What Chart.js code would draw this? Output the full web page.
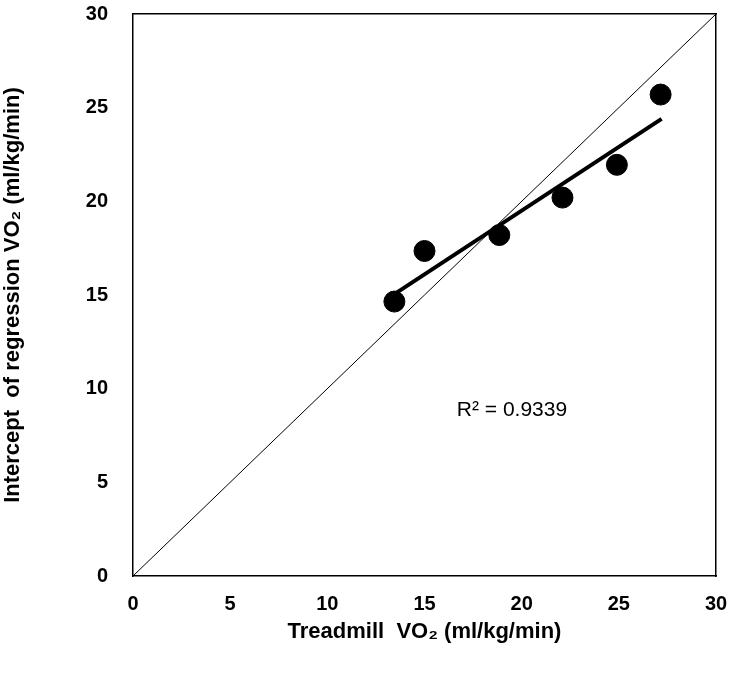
<!DOCTYPE html>
<html>
<head>
<meta charset="utf-8">
<script src="https://cdn.jsdelivr.net/npm/chart.js@4.4.1/dist/chart.umd.min.js"></script>
<style>
  html, body { margin: 0; padding: 0; background: #fff; }
  #wrap { width: 734px; height: 678px; }
</style>
</head>
<body>
<div id="wrap"><canvas id="chart" width="734" height="678"></canvas></div>
<script>
// values
const treadmillVO2 = [13.45, 15.0, 18.85, 22.1, 24.9, 27.15];
const interceptVO2 = [14.65, 17.35, 18.2, 20.2, 21.95, 25.7];
const trendX = [13.45, 27.2];
const trendY = [15.05, 24.4];
const identityX = [0, 30];
const identityY = [0, 30];
const rSquaredLabel = 'R\u00b2 = 0.9339';
const rSquaredAt = { x: 19.5, y: 8.85 };

const FONT = '"Liberation Sans", Arial, sans-serif';

const toPoints = (xs, ys) => xs.map((x, i) => ({ x, y: ys[i] }));

// writes the R² note at a data position
const rSquaredPlugin = {
  id: 'rSquared',
  afterDatasetsDraw(chart) {
    const { ctx, scales } = chart;
    ctx.save();
    ctx.font = '21px ' + FONT;
    ctx.fillStyle = '#000';
    ctx.textAlign = 'center';
    ctx.textBaseline = 'middle';
    ctx.fillText(rSquaredLabel, scales.x.getPixelForValue(rSquaredAt.x), scales.y.getPixelForValue(rSquaredAt.y));
    ctx.restore();
  },
};

const noEdgePadding = (scale) => {
  scale.paddingTop = 0;
  scale.paddingBottom = 0;
  scale.paddingLeft = 0;
  scale.paddingRight = 0;
};

const hiddenFrameAxis = (position, fit) => ({
  type: 'linear',
  position,
  min: 0,
  max: 30,
  ticks: { display: false },
  grid: { display: false, drawTicks: false },
  border: { display: true, color: '#000', width: 1.5 },
  afterFit(scale) {
    fit(scale);
    noEdgePadding(scale);
  },
});

new Chart(document.getElementById('chart'), {
  type: 'scatter',
  data: {
    datasets: [
      {
        label: 'points',
        data: toPoints(treadmillVO2, interceptVO2),
        backgroundColor: '#000',
        borderColor: '#000',
        pointRadius: 10.5,
        pointHoverRadius: 10.5,
      },
      {
        label: 'trend',
        data: toPoints(trendX, trendY),
        showLine: true,
        borderColor: '#000',
        borderWidth: 4,
        pointRadius: 0,
      },
      {
        label: 'identity',
        data: toPoints(identityX, identityY),
        showLine: true,
        borderColor: '#000',
        borderWidth: 1,
        pointRadius: 0,
      },
    ],
  },
  options: {
    responsive: false,
    animation: false,
    layout: { padding: { top: 14, right: 18, bottom: 0, left: 0 } },
    plugins: { legend: { display: false }, tooltip: { enabled: false } },
    scales: {
      x: {
        type: 'linear',
        position: 'bottom',
        min: 0,
        max: 30,
        ticks: { stepSize: 5, padding: 16, color: '#000', font: { family: FONT, size: 20, weight: 'bold' } },
        grid: { display: false, drawTicks: false },
        border: { display: true, color: '#000', width: 1.5 },
        title: {
          display: true,
          text: 'Treadmill  VO\u2082 (ml/kg/min)',
          color: '#000',
          font: { family: FONT, size: 22, weight: 'bold' },
          padding: { top: 0, bottom: 33 },
        },
        afterFit(scale) {
          scale.height = 102;
          noEdgePadding(scale);
        },
      },
      y: {
        type: 'linear',
        position: 'left',
        min: 0,
        max: 30,
        ticks: { stepSize: 5, padding: 25, color: '#000', font: { family: FONT, size: 20, weight: 'bold' } },
        grid: { display: false, drawTicks: false },
        border: { display: true, color: '#000', width: 1.5 },
        title: {
          display: true,
          text: 'Intercept  of regression VO\u2082 (ml/kg/min)',
          color: '#000',
          font: { family: FONT, size: 22, weight: 'bold' },
          padding: { top: 0, bottom: 0 },
        },
        afterFit(scale) {
          scale.width = 133;
          noEdgePadding(scale);
        },
      },
      xTop: hiddenFrameAxis('top', (scale) => { scale.height = 0; }),
      yRight: hiddenFrameAxis('right', (scale) => { scale.width = 0; }),
    },
  },
  plugins: [rSquaredPlugin],
});
</script>
</body>
</html>
